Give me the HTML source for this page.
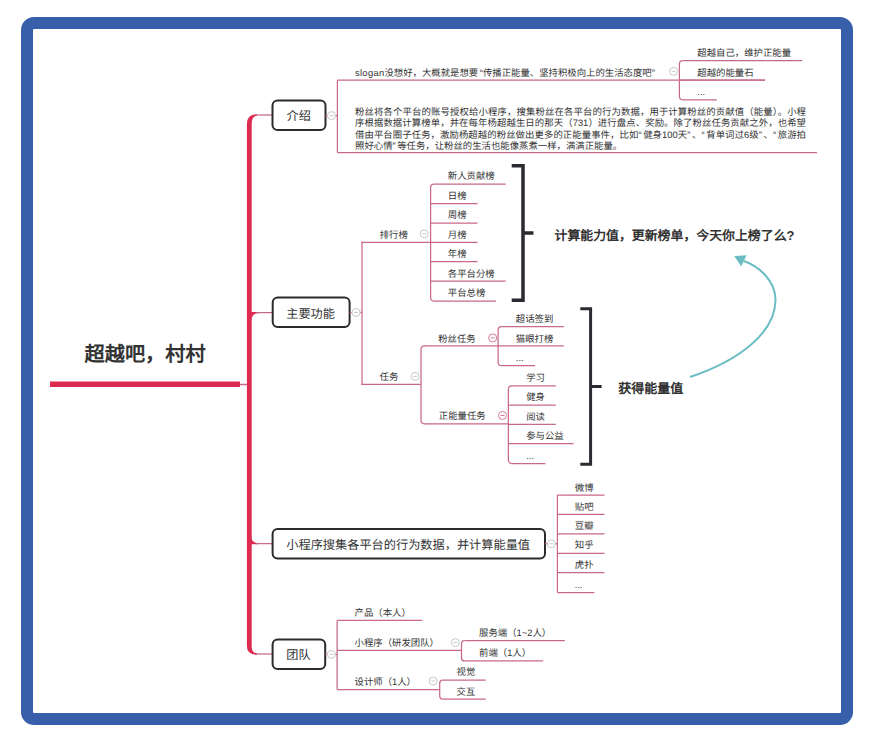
<!DOCTYPE html><html lang="zh-CN"><head><meta charset="utf-8"><style>
html,body{margin:0;padding:0;background:#fff;}body{width:878px;height:744px;position:relative;overflow:hidden;font-family:"Liberation Sans",sans-serif;text-rendering:geometricPrecision;}.f{position:absolute;left:21px;top:17px;width:808px;height:684px;border:12px solid #375faa;border-radius:13px;}.t{position:absolute;white-space:nowrap;color:#333;}.j{text-align:justify;text-align-last:justify;white-space:normal;height:13px;overflow:hidden;}svg{position:absolute;left:0;top:0;}.qo,.qc{display:inline-block;width:0.5em;}.qo{text-align:right}
</style></head><body><div class="f"></div>
<svg width="878" height="744" viewBox="0 0 878 744" fill="none"><path d="M50 384.3H240" stroke="#dc2a50" stroke-width="5.5"/><path d="M240 384.5H249" stroke="#c8688a" stroke-width="1.5"/><path d="M246.9 646V124Q246.9 114.2 257 114.2V115.8Q251.7 115.8 251.7 124V646Q251.7 653.2 257 653.2V654.8Q246.9 654.8 246.9 646Z" fill="#dc2a50"/><path d="M251 312H258V313.2Q252.2 313.2 251.5 320Z" fill="#dc2a50"/><path d="M251 537Q252.2 543 258 543V544.2H251Z" fill="#dc2a50"/><path d="M256 115H272" stroke="#c8688a" stroke-width="1.25"/><path d="M256 312.6H272" stroke="#c8688a" stroke-width="1.25"/><path d="M256 543.6H272" stroke="#c8688a" stroke-width="1.25"/><path d="M256 654H272" stroke="#c8688a" stroke-width="1.25"/><rect x="272.5" y="100.5" width="53.0" height="29.5" rx="5" ry="5" fill="#fff" stroke="#2b2b2b" stroke-width="2"/><path d="M325.5 115.6H337.4" stroke="#c8688a" stroke-width="1.25"/><path d="M337.4 80.2V152.6" stroke="#c8688a" stroke-width="1.25"/><path d="M337.4 80H765" stroke="#c8688a" stroke-width="1.25"/><path d="M337.4 152.5H817" stroke="#c8688a" stroke-width="1.25"/><circle cx="331.5" cy="115.6" r="4" stroke="#c8c8c8" stroke-width="1" fill="#fff"/><path d="M329.5 115.6H333.5" stroke="#c8c8c8" stroke-width="1"/><circle cx="673.6" cy="71.3" r="4" stroke="#c8c8c8" stroke-width="1" fill="#fff"/><path d="M671.6 71.3H675.6" stroke="#c8c8c8" stroke-width="1"/><path d="M682.9 60.6Q679.4 60.6 679.4 64.1V96.3Q679.4 99.8 682.9 99.8" stroke="#c8688a" stroke-width="1.25" fill="none"/><path d="M683 60.6H802.3" stroke="#c8688a" stroke-width="1.25"/><path d="M679.4 80H765" stroke="#c8688a" stroke-width="1.25"/><path d="M683 99.8H716.8" stroke="#c8688a" stroke-width="1.25"/><rect x="272.7" y="297.5" width="76.90000000000003" height="29.5" rx="5" ry="5" fill="#fff" stroke="#2b2b2b" stroke-width="2"/><path d="M349.6 312.5H362" stroke="#c8688a" stroke-width="1.25"/><circle cx="356.1" cy="312.5" r="4" stroke="#c8c8c8" stroke-width="1" fill="#fff"/><path d="M354.1 312.5H358.1" stroke="#c8c8c8" stroke-width="1"/><path d="M362 241.8V385" stroke="#c8688a" stroke-width="1.25"/><path d="M361.4 242.4H430.6" stroke="#c8688a" stroke-width="1.25"/><path d="M361.4 384.4H421" stroke="#c8688a" stroke-width="1.25"/><circle cx="424.2" cy="233.8" r="4" stroke="#c8c8c8" stroke-width="1" fill="#fff"/><path d="M422.2 233.8H426.2" stroke="#c8c8c8" stroke-width="1"/><path d="M434.1 184.2Q430.6 184.2 430.6 187.7V297.5Q430.6 301 434.1 301" stroke="#c8688a" stroke-width="1.25" fill="none"/><path d="M434 184.2H505.8" stroke="#c8688a" stroke-width="1.25"/><path d="M430.6 203.5H477.5" stroke="#c8688a" stroke-width="1.25"/><path d="M430.6 223H477.5" stroke="#c8688a" stroke-width="1.25"/><path d="M430.6 242.4H477.5" stroke="#c8688a" stroke-width="1.25"/><path d="M430.6 261.5H477.5" stroke="#c8688a" stroke-width="1.25"/><path d="M430.6 281H505.8" stroke="#c8688a" stroke-width="1.25"/><path d="M434 301H496" stroke="#c8688a" stroke-width="1.25"/><path d="M511.7 165.7H523V300.3H511.7M523 232.9H533.5" stroke="#2a2a30" stroke-width="3.5" fill="none"/><circle cx="415.1" cy="376.4" r="4" stroke="#c8c8c8" stroke-width="1" fill="#fff"/><path d="M413.1 376.4H417.1" stroke="#c8c8c8" stroke-width="1"/><path d="M424.5 345.9Q421 345.9 421 349.4V420.3Q421 423.8 424.5 423.8" stroke="#c8688a" stroke-width="1.25" fill="none"/><path d="M424 345.9H498.1" stroke="#c8688a" stroke-width="1.25"/><path d="M424 423.8H508.4" stroke="#c8688a" stroke-width="1.25"/><circle cx="492.7" cy="337.9" r="4" stroke="#d87a95" stroke-width="1" fill="#fff"/><path d="M490.7 337.9H494.7" stroke="#d87a95" stroke-width="1"/><path d="M501.6 326.7Q498.1 326.7 498.1 330.2V362.2Q498.1 365.7 501.6 365.7" stroke="#c8688a" stroke-width="1.25" fill="none"/><path d="M501.5 326.7H563.8" stroke="#c8688a" stroke-width="1.25"/><path d="M498.1 345.9H563.8" stroke="#c8688a" stroke-width="1.25"/><path d="M501.5 365.7H535" stroke="#c8688a" stroke-width="1.25"/><circle cx="502.5" cy="415.5" r="4" stroke="#d87a95" stroke-width="1" fill="#fff"/><path d="M500.5 415.5H504.5" stroke="#d87a95" stroke-width="1"/><path d="M511.9 385.9Q508.4 385.9 508.4 389.4V460.0Q508.4 463.5 511.9 463.5" stroke="#c8688a" stroke-width="1.25" fill="none"/><path d="M511.5 385.9H555.8" stroke="#c8688a" stroke-width="1.25"/><path d="M508.4 405.1H555.8" stroke="#c8688a" stroke-width="1.25"/><path d="M508.4 424.4H555.8" stroke="#c8688a" stroke-width="1.25"/><path d="M508.4 443.6H573.6" stroke="#c8688a" stroke-width="1.25"/><path d="M511.5 463.5H545.4" stroke="#c8688a" stroke-width="1.25"/><path d="M580.3 308.7H590.6V464.2H580.3M590.6 386.4H601.6" stroke="#2a2a30" stroke-width="3" fill="none"/><path d="M690 377C738 361 776 333 775.5 299C775 281 760 267 744 261" stroke="#6bbdc4" stroke-width="2" fill="none"/><path d="M734.2 256L746.5 255.3L741.3 266.5Z" fill="#6bbdc4"/><rect x="272.6" y="529" width="272.4" height="29.399999999999977" rx="5" ry="5" fill="#fff" stroke="#2b2b2b" stroke-width="2"/><path d="M545 543.8H557.4" stroke="#c8688a" stroke-width="1.25"/><circle cx="551.4" cy="543.8" r="4" stroke="#c8c8c8" stroke-width="1" fill="#fff"/><path d="M549.4 543.8H553.4" stroke="#c8c8c8" stroke-width="1"/><path d="M557.4 495V592.6" stroke="#c8688a" stroke-width="1.25"/><path d="M557.4 495H604.5" stroke="#c8688a" stroke-width="1.25"/><path d="M557.4 514.3H604.5" stroke="#c8688a" stroke-width="1.25"/><path d="M557.4 533.8H604.5" stroke="#c8688a" stroke-width="1.25"/><path d="M557.4 553.3H604.5" stroke="#c8688a" stroke-width="1.25"/><path d="M557.4 572.6H604.5" stroke="#c8688a" stroke-width="1.25"/><path d="M557.4 592.6H594.4" stroke="#c8688a" stroke-width="1.25"/><rect x="272.6" y="639.5" width="52.599999999999966" height="29.5" rx="5" ry="5" fill="#fff" stroke="#2b2b2b" stroke-width="2"/><path d="M325.2 654.4H337.1" stroke="#c8688a" stroke-width="1.25"/><circle cx="331.3" cy="654.4" r="4" stroke="#c8c8c8" stroke-width="1" fill="#fff"/><path d="M329.3 654.4H333.3" stroke="#c8c8c8" stroke-width="1"/><path d="M337.1 620.4V689.5" stroke="#c8688a" stroke-width="1.25"/><path d="M337.1 620.4H422.2" stroke="#c8688a" stroke-width="1.25"/><path d="M337.1 650.3H461.5" stroke="#c8688a" stroke-width="1.25"/><path d="M337.1 689.5H439.7" stroke="#c8688a" stroke-width="1.25"/><circle cx="455.3" cy="642.6" r="4" stroke="#c8c8c8" stroke-width="1" fill="#fff"/><path d="M453.3 642.6H457.3" stroke="#c8c8c8" stroke-width="1"/><path d="M464.5 640.6Q461.5 640.6 461.5 643.6V657.9Q461.5 660.9 464.5 660.9" stroke="#c8688a" stroke-width="1.25" fill="none"/><path d="M464.5 640.6H564.8" stroke="#c8688a" stroke-width="1.25"/><path d="M464.5 660.9H543.2" stroke="#c8688a" stroke-width="1.25"/><circle cx="433.2" cy="681" r="4" stroke="#c8c8c8" stroke-width="1" fill="#fff"/><path d="M431.2 681H435.2" stroke="#c8c8c8" stroke-width="1"/><path d="M442.7 680.2Q439.7 680.2 439.7 683.2V696Q439.7 699 442.7 699" stroke="#c8688a" stroke-width="1.25" fill="none"/><path d="M442.7 680.2H485.8" stroke="#c8688a" stroke-width="1.25"/><path d="M442.7 699H485.8" stroke="#c8688a" stroke-width="1.25"/></svg>
<div class="t" style="left:355.0px;top:66.7px;font-size:9.4px;line-height:12.2px;font-weight:500;"><span style="letter-spacing:0.3px">slogan</span>没想好，大概就是想要<span class=qo>“</span>传播正能量、坚持积极向上的生活态度吧<span class=qc>”</span></div>
<div class="t" style="left:697.3px;top:47.0px;font-size:9.4px;line-height:12.2px;font-weight:500;">超越自己，维护正能量</div>
<div class="t" style="left:697.3px;top:66.9px;font-size:9.4px;line-height:12.2px;font-weight:500;">超越的能量石</div>
<div class="t" style="left:697.3px;top:86.2px;font-size:9.4px;line-height:12.2px;font-weight:500;">...</div>
<div class="t j" style="left:355.0px;top:105.9px;font-size:9.4px;line-height:12.2px;font-weight:500;width:451px;">粉丝将各个平台的账号授权给小程序，搜集粉丝在各平台的行为数据，用于计算粉丝的贡献值（能量）。小程</div>
<div class="t j" style="left:355.0px;top:117.3px;font-size:9.4px;line-height:12.2px;font-weight:500;width:451px;">序根据数据计算榜单，并在每年杨超越生日的那天（731）进行盘点、奖励。除了粉丝任务贡献之外，也希望</div>
<div class="t j" style="left:355.0px;top:128.7px;font-size:9.4px;line-height:12.2px;font-weight:500;width:451px;">借由平台圈子任务，激励杨超越的粉丝做出更多的正能量事件，比如<span class=qo>“</span>健身100天<span class=qc>”</span>、<span class=qo>“</span>背单词过6级<span class=qc>”</span>、<span class=qo>“</span>旅游拍</div>
<div class="t" style="left:355.0px;top:140.0px;font-size:9.4px;line-height:12.2px;font-weight:500;">照好心情<span class=qc>”</span>等任务，让粉丝的生活也能像蒸煮一样，满满正能量。</div>
<div class="t" style="left:379.7px;top:228.5px;font-size:9.4px;line-height:12.2px;font-weight:500;">排行榜</div>
<div class="t" style="left:447.8px;top:170.1px;font-size:9.4px;line-height:12.2px;font-weight:500;">新人贡献榜</div>
<div class="t" style="left:447.8px;top:190.0px;font-size:9.4px;line-height:12.2px;font-weight:500;">日榜</div>
<div class="t" style="left:447.8px;top:209.0px;font-size:9.4px;line-height:12.2px;font-weight:500;">周榜</div>
<div class="t" style="left:447.8px;top:228.5px;font-size:9.4px;line-height:12.2px;font-weight:500;">月榜</div>
<div class="t" style="left:447.8px;top:248.0px;font-size:9.4px;line-height:12.2px;font-weight:500;">年榜</div>
<div class="t" style="left:447.8px;top:267.5px;font-size:9.4px;line-height:12.2px;font-weight:500;">各平台分榜</div>
<div class="t" style="left:447.8px;top:286.9px;font-size:9.4px;line-height:12.2px;font-weight:500;">平台总榜</div>
<div class="t" style="left:554.5px;top:228.2px;font-size:12.9px;line-height:16.8px;font-weight:700;">计算能力值，更新榜单，今天你上榜了么?</div>
<div class="t" style="left:379.6px;top:371.1px;font-size:9.4px;line-height:12.2px;font-weight:500;">任务</div>
<div class="t" style="left:438.2px;top:332.6px;font-size:9.4px;line-height:12.2px;font-weight:500;">粉丝任务</div>
<div class="t" style="left:515.8px;top:313.1px;font-size:9.4px;line-height:12.2px;font-weight:500;">超话签到</div>
<div class="t" style="left:515.8px;top:332.6px;font-size:9.4px;line-height:12.2px;font-weight:500;">猫眼打榜</div>
<div class="t" style="left:515.8px;top:352.2px;font-size:9.4px;line-height:12.2px;font-weight:500;">...</div>
<div class="t" style="left:438.8px;top:410.2px;font-size:9.4px;line-height:12.2px;font-weight:500;">正能量任务</div>
<div class="t" style="left:526.2px;top:371.7px;font-size:9.4px;line-height:12.2px;font-weight:500;">学习</div>
<div class="t" style="left:526.2px;top:390.9px;font-size:9.4px;line-height:12.2px;font-weight:500;">健身</div>
<div class="t" style="left:526.2px;top:410.7px;font-size:9.4px;line-height:12.2px;font-weight:500;">阅读</div>
<div class="t" style="left:526.2px;top:430.3px;font-size:9.4px;line-height:12.2px;font-weight:500;">参与公益</div>
<div class="t" style="left:526.2px;top:449.7px;font-size:9.4px;line-height:12.2px;font-weight:500;">...</div>
<div class="t" style="left:618.3px;top:380.8px;font-size:13px;line-height:16.9px;font-weight:700;">获得能量值</div>
<div class="t" style="left:574.8px;top:481.5px;font-size:9.4px;line-height:12.2px;font-weight:500;">微博</div>
<div class="t" style="left:574.8px;top:501.1px;font-size:9.4px;line-height:12.2px;font-weight:500;">贴吧</div>
<div class="t" style="left:574.8px;top:520.3px;font-size:9.4px;line-height:12.2px;font-weight:500;">豆瓣</div>
<div class="t" style="left:574.8px;top:539.4px;font-size:9.4px;line-height:12.2px;font-weight:500;">知乎</div>
<div class="t" style="left:574.8px;top:559.1px;font-size:9.4px;line-height:12.2px;font-weight:500;">虎扑</div>
<div class="t" style="left:574.8px;top:578.7px;font-size:9.4px;line-height:12.2px;font-weight:500;">...</div>
<div class="t" style="left:354.5px;top:606.7px;font-size:9.4px;line-height:12.2px;font-weight:500;">产品（本人）</div>
<div class="t" style="left:354.5px;top:636.8px;font-size:9.4px;line-height:12.2px;font-weight:500;">小程序（研发团队）</div>
<div class="t" style="left:354.5px;top:676.1px;font-size:9.4px;line-height:12.2px;font-weight:500;">设计师（1人）</div>
<div class="t" style="left:479.0px;top:627.3px;font-size:9.4px;line-height:12.2px;font-weight:500;">服务端（1~2人）</div>
<div class="t" style="left:479.0px;top:647.3px;font-size:9.4px;line-height:12.2px;font-weight:500;">前端（1人）</div>
<div class="t" style="left:456.5px;top:666.1px;font-size:9.4px;line-height:12.2px;font-weight:500;">视觉</div>
<div class="t" style="left:456.5px;top:686.2px;font-size:9.4px;line-height:12.2px;font-weight:500;">交互</div>
<div class="t" style="left:286.5px;top:109.1px;font-size:12.15px;line-height:15.8px;font-weight:500;">介绍</div>
<div class="t" style="left:286.3px;top:306.8px;font-size:12.15px;line-height:15.8px;font-weight:500;">主要功能</div>
<div class="t" style="left:286.3px;top:538.3px;font-size:12.2px;line-height:15.9px;font-weight:500;">小程序搜集各平台的行为数据，并计算能量值</div>
<div class="t" style="left:286.3px;top:648.0px;font-size:12.15px;line-height:15.8px;font-weight:500;">团队</div>
<div class="t" style="left:84.5px;top:342.2px;font-size:20.2px;line-height:26.3px;font-weight:700;">超越吧，村村</div>
</body></html>
